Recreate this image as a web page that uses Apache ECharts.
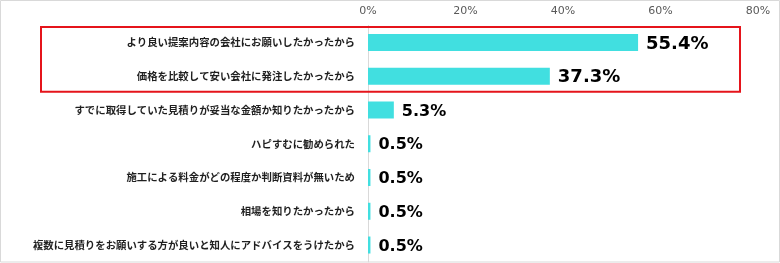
<!DOCTYPE html>
<html><head><meta charset="utf-8">
<script src="https://cdn.jsdelivr.net/npm/echarts@6/dist/echarts.min.js"></script>
<style>html,body{margin:0;padding:0;background:#fff}#c{width:780px;height:263px}</style>
</head><body><div id="c"></div>
<script>
var categories = [
  'より良い提案内容の会社にお願いしたかったから',
  '価格を比較して安い会社に発注したかったから',
  'すでに取得していた見積りが妥当な金額か知りたかったから',
  'ハピすむに勧められた',
  '施工による料金がどの程度か判断資料が無いため',
  '相場を知りたかったから',
  '複数に見積りをお願いする方が良いと知人にアドバイスをうけたから'
];
var values = [55.4, 37.3, 5.3, 0.5, 0.5, 0.5, 0.5];
var highlighted = [0, 1];
var tickValues = [0, 20, 40, 60, 80];

var chart = echarts.init(document.getElementById('c'), null, {renderer: 'canvas'});
var option = {
  animation: false,
  grid: {left: 368, right: 22, top: 25.6, height: 236.3, containLabel: false},
  xAxis: {
    type: 'value', position: 'top', min: tickValues[0], max: tickValues[tickValues.length - 1], interval: 20,
    axisLabel: {formatter: '{value}%', color: '#595959', fontSize: 11, fontFamily: 'DejaVu Sans', margin: 9},
    axisLine: {show: false}, axisTick: {show: false}, splitLine: {show: false}
  },
  yAxis: {
    type: 'category', data: categories, inverse: true,
    axisLine: {show: true, lineStyle: {color: '#d9d9d9', width: 1}},
    axisTick: {show: false},
    axisLabel: {color: '#1f1f1f', fontSize: 10.4, fontWeight: 'bold', fontFamily: 'Noto Sans CJK JP', margin: 13}
  },
  series: [{
    type: 'bar', barWidth: 17,
    data: values.map(function (v, i) {
      return {value: v, label: {fontSize: highlighted.indexOf(i) >= 0 ? 18 : 16}};
    }),
    itemStyle: {color: '#41DFE0'},
    label: {show: true, position: 'right', distance: 8, offset: [0, 1.5],
      formatter: function (p) { return p.value.toFixed(1) + '%'; },
      color: '#000', fontWeight: 'bold', fontFamily: 'DejaVu Sans'}
  }]
};
chart.setOption(option);
var yTop = chart.convertToPixel({yAxisIndex: 0}, categories[highlighted[0]]);
var yBot = chart.convertToPixel({yAxisIndex: 0}, categories[highlighted[highlighted.length - 1]]);
chart.setOption({
  graphic: [
    {type: 'rect', shape: {x: 0.5, y: 0.5, width: 779, height: 261.5}, style: {fill: 'none', stroke: '#d9d9d9', lineWidth: 1}, z: 0},
    {type: 'rect', shape: {x: 41, y: yTop - 15.5, width: 699, height: (yBot - yTop) + 31}, style: {fill: 'none', stroke: '#e5141b', lineWidth: 2}, z: 100}
  ]
});
</script></body></html>
